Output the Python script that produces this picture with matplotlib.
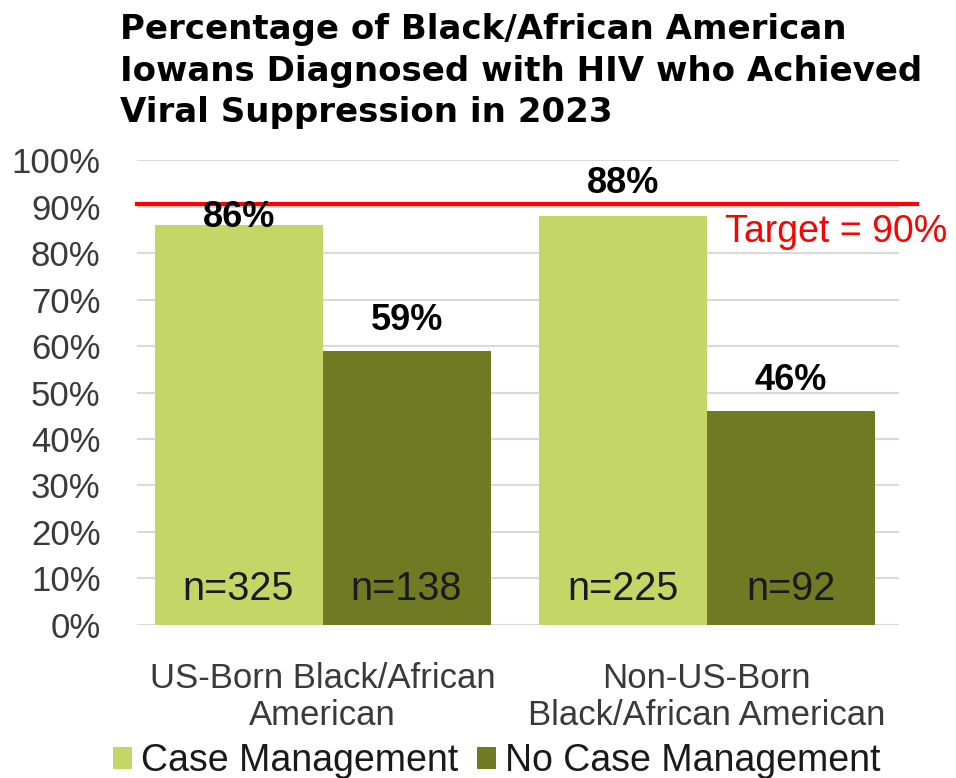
import matplotlib.pyplot as plt
import numpy as np

categories = ['US-Born Black/African\nAmerican', 'Non-US-Born\nBlack/African American']
series = ['Case Management', 'No Case Management']
case_mgmt = [86, 88]
no_case_mgmt = [59, 46]
n_case_mgmt = [325, 225]
n_no_case_mgmt = [138, 92]
target = 90

light = '#c4d666'
dark = '#6e7b23'
txt = '#3a3a3a'

plt.rcParams['font.family'] = ['Liberation Sans', 'DejaVu Sans']

fig = plt.figure(figsize=(9.56, 7.78), dpi=100)
ax = fig.add_axes([0.143, 0.197, 0.797, 0.597])

x = np.arange(len(categories))
w = 0.4375
ax.bar(x - w / 2, case_mgmt, w, color=light, label=series[0], zorder=2)
ax.bar(x + w / 2, no_case_mgmt, w, color=dark, label=series[1], zorder=2)

ax.set_xlim(-0.484, 1.5)
ax.set_ylim(0, 100)
ax.set_yticks(range(0, 101, 10))
ax.set_yticklabels([f'{v}%' for v in range(0, 101, 10)])
ax.yaxis.grid(True, color='#d9d9d9', linewidth=1.5, zorder=0)
ax.set_axisbelow(True)
for s in ax.spines.values():
    s.set_visible(False)
ax.tick_params(axis='y', length=0, pad=26, labelsize=25, labelcolor=txt)
ax.tick_params(axis='x', length=0, pad=27, labelsize=25, labelcolor=txt)
ax.set_xticks(x)
ax.set_xticklabels(categories, linespacing=1.15)

# target line
ax.axhline(target + 0.5, xmin=0, xmax=1.024, color='red', linewidth=3, zorder=3, clip_on=False)
ax.text(1.047, target - 5.5, f'Target = {target}%', color='red', fontsize=27,
        ha='left', va='center')

# value labels
light_off = [1.7, 7.0]
dark_off = [6.6, 6.5]
for i in range(len(categories)):
    ax.text(x[i] - w / 2, case_mgmt[i] + light_off[i], f'{case_mgmt[i]}%',
            ha='center', va='center', fontsize=26, fontweight='bold', color='black', zorder=4)
    ax.text(x[i] + w / 2, no_case_mgmt[i] + dark_off[i], f'{no_case_mgmt[i]}%',
            ha='center', va='center', fontsize=26, fontweight='bold', color='black', zorder=4)
    ax.text(x[i] - w / 2, 7.7, f'n={n_case_mgmt[i]}', ha='center', va='center',
            fontsize=28.5, color='#1a1a1a', zorder=4)
    ax.text(x[i] + w / 2, 7.7, f'n={n_no_case_mgmt[i]}', ha='center', va='center',
            fontsize=28.5, color='#1a1a1a', zorder=4)

fig.text(0.126, 0.983,
         'Percentage of Black/African American\nIowans Diagnosed with HIV who Achieved\nViral Suppression in 2023',
         ha='left', va='top', fontsize=24.5, fontweight='bold', linespacing=1.33,
         family=['DejaVu Sans'])

fig.legend(loc='lower center', bbox_to_anchor=(0.52, -0.045), ncol=2, frameon=False,
           fontsize=27, handlelength=0.5, handleheight=0.5, handletextpad=0.25,
           columnspacing=0.5, labelcolor='#1a1a1a')

fig.savefig('out.png', dpi=100)
